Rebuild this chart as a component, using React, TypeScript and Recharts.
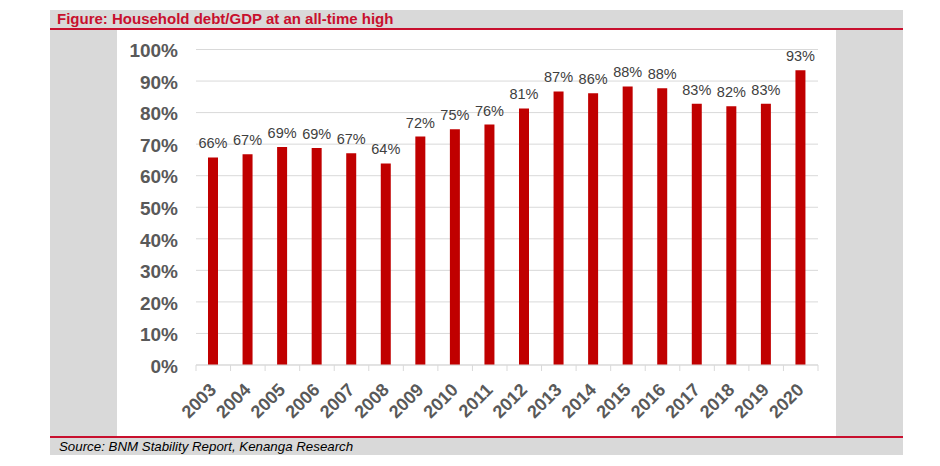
import React from 'react';
import { BarChart, Bar, XAxis, YAxis, CartesianGrid, LabelList } from 'recharts';

const years = ['2003','2004','2005','2006','2007','2008','2009','2010','2011','2012','2013','2014','2015','2016','2017','2018','2019','2020'];
const debtToGdp = [65.8, 66.8, 69.1, 68.8, 67.1, 63.9, 72.4, 74.7, 76.2, 81.3, 86.7, 86.1, 88.3, 87.7, 82.8, 82.0, 82.8, 93.4];
const yTicks = [0, 10, 20, 30, 40, 50, 60, 70, 80, 90, 100];

const data = years.map((y, i) => ({ year: y, value: debtToGdp[i] }));

const FONT = '"Liberation Sans", Arial, sans-serif';

const XTick = (props: any) => {
  const { x, y, payload, index, visibleTicksCount } = props;
  const off = payload && typeof payload.offset === 'number' && payload.offset > 0 ? payload.offset : 17.3;
  const last = index === visibleTicksCount - 1;
  return (
    <g>
      <line x1={x - off} x2={x - off} y1={y} y2={y + 6} stroke="#d9d9d9" strokeWidth={1} />
      {last && <line x1={x + off} x2={x + off} y1={y} y2={y + 6} stroke="#d9d9d9" strokeWidth={1} />}
      <text
        transform={`translate(${x + 4},${y + 26}) rotate(-45)`}
        textAnchor="end"
        fontFamily={FONT}
        fontWeight="bold"
        fontSize={18}
        fill="#595959"
      >
        {payload.value}
      </text>
    </g>
  );
};

export default function App() {
  return (
    <div style={{ position: 'absolute', left: 0, top: 0, width: 940, height: 466, background: '#ffffff', fontFamily: FONT }}>
      <div style={{ position: 'absolute', left: 50, top: 10, width: 853, height: 18, background: '#d9d9d9' }} />
      <div style={{ position: 'absolute', left: 50, top: 28, width: 853, height: 1.5, background: '#c8102e' }} />
      <div style={{ position: 'absolute', left: 57, top: 10, height: 18, lineHeight: '18px', fontSize: 15, fontWeight: 'bold', color: '#c8102e', whiteSpace: 'nowrap' }}>
        Figure: Household debt/GDP at an all-time high
      </div>
      <div style={{ position: 'absolute', left: 50, top: 29.5, width: 67, height: 406.5, background: '#d9d9d9' }} />
      <div style={{ position: 'absolute', left: 836, top: 29.5, width: 67, height: 406.5, background: '#d9d9d9' }} />
      <div style={{ position: 'absolute', left: 50, top: 436, width: 853, height: 1.5, background: '#c8102e' }} />
      <div style={{ position: 'absolute', left: 50, top: 437.5, width: 853, height: 17.5, background: '#d9d9d9' }} />
      <div style={{ position: 'absolute', left: 59, top: 437.5, height: 17.5, lineHeight: '17.5px', fontSize: 13.3, fontStyle: 'italic', color: '#000000', whiteSpace: 'nowrap' }}>
        Source: BNM Stability Report, Kenanga Research
      </div>
      <div style={{ position: 'absolute', left: 117, top: 29.5, width: 719, height: 406.5, background: '#ffffff' }}>
        <BarChart width={719} height={406} data={data} margin={{ top: 19.5, right: 18, bottom: 0, left: 0 }} barCategoryGap={0}>
          <CartesianGrid vertical={false} stroke="#d9d9d9" strokeWidth={1} />
          <XAxis
            dataKey="year"
            height={71}
            axisLine={{ stroke: '#d9d9d9' }}
            tickLine={false}
            tickSize={0}
            tickMargin={0}
            interval={0}
            tick={<XTick />}
          />
          <YAxis
            width={79}
            domain={[0, 100]}
            ticks={yTicks}
            axisLine={false}
            tickLine={false}
            tickSize={0}
            tickMargin={18}
            interval={0}
            tickFormatter={(v: number) => `${v}%`}
            tick={{ fontFamily: FONT, fontWeight: 'bold', fontSize: 19, fill: '#595959', dy: 1 }}
          />
          <Bar dataKey="value" fill="#c00000" barSize={10} isAnimationActive={false}>
            <LabelList
              dataKey="value"
              position="top"
              offset={9}
              formatter={(v: any) => `${Math.round(Number(v))}%`}
              style={{ fontFamily: FONT, fontSize: 14.5, fill: '#404040' }}
            />
          </Bar>
        </BarChart>
      </div>
    </div>
  );
}
